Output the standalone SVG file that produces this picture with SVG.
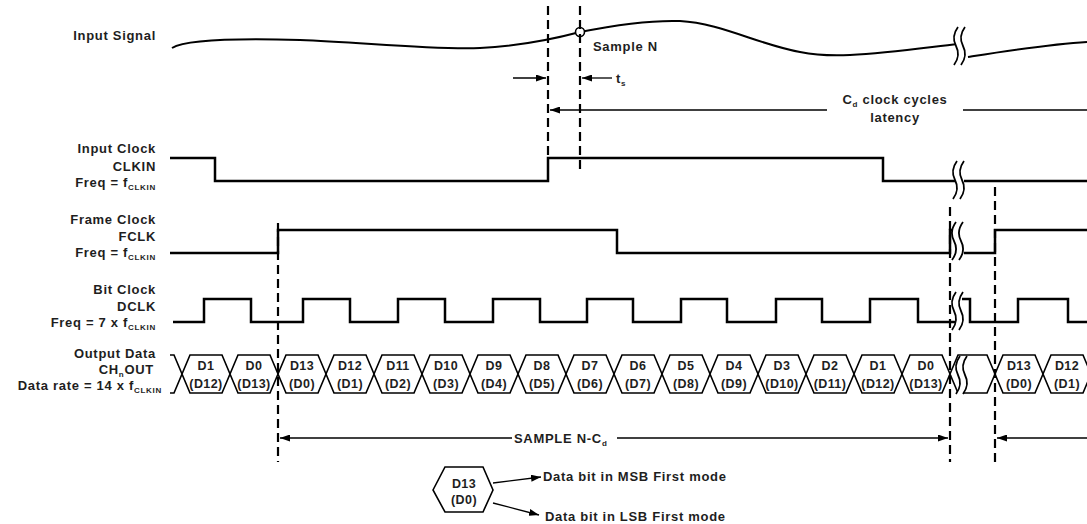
<svg xmlns="http://www.w3.org/2000/svg" xmlns:xlink="http://www.w3.org/1999/xlink" width="1087" height="524" viewBox="0 0 1087 524">
<style>
.lbl{font-family:"Liberation Sans",Arial,sans-serif;font-weight:bold;font-size:13px;fill:#1e1e1e;letter-spacing:0.7px}
.cell{font-family:"Liberation Sans",Arial,sans-serif;font-weight:bold;font-size:12.5px;fill:#1e1e1e;text-anchor:middle;letter-spacing:0.4px}
.sub{font-size:8px}
.sig{fill:none;stroke:#000;stroke-width:2.5;stroke-linejoin:miter}
.curve{fill:none;stroke:#000;stroke-width:2}
.hex{fill:#fff;stroke:#000;stroke-width:1.6}
.dash{stroke:#000;stroke-width:2.2;stroke-dasharray:9 5;fill:none}
.arr{stroke:#000;stroke-width:1.3;fill:none}
.brkc{fill:none;stroke:#000;stroke-width:1.8}
</style>
<defs>
<marker id="ah" viewBox="0 0 10 7" refX="10" refY="3.5" markerWidth="10" markerHeight="7" markerUnits="userSpaceOnUse" orient="auto">
<path d="M0,0 L10,3.5 L0,7 z" fill="#000"/>
</marker>
<g id="brk">
<path d="M3,0 Q-4,9.5 1,19 Q6,28.5 -1,38 L6,38 Q13,28.5 8,19 Q3,9.5 10,0 Z" fill="#fff" stroke="none"/>
<path class="brkc" d="M3,0 Q-4,9.5 1,19 Q6,28.5 -1,38"/>
<path class="brkc" d="M10,0 Q3,9.5 8,19 Q13,28.5 6,38"/>
</g>
</defs>
<rect width="1087" height="524" fill="#fff"/>

<g id="input-signal">
<text class="lbl" x="156" y="40" text-anchor="end">Input Signal</text>
<path class="curve" d="M172,48 C185,40 230,38 300,40 C360,42 430,50 480,48 C520,46 550,40 580,32 C620,24 650,20 680,21 C720,23 760,45 800,52 C815,55 830,56 850,55 C890,53 930,47 958,44"/>
<path class="curve" d="M968,57 C1000,52 1050,44 1087,42"/>
<use xlink:href="#brk" href="#brk" transform="translate(955,27)"/>
<circle cx="580" cy="32" r="4.5" fill="#fff" stroke="#000" stroke-width="1.6"/>
<text class="lbl" x="593" y="51">Sample N</text>
</g>

<g id="input-clock">
<text class="lbl" x="156" y="153" text-anchor="end">Input Clock</text>
<text class="lbl" x="156" y="171" text-anchor="end">CLKIN</text>
<text class="lbl" x="156" y="187" text-anchor="end">Freq = f<tspan class="sub" dy="3">CLKIN</tspan></text>
<path class="sig" d="M170,158 H215 V181 H548 V158 H883 V181 H958"/>
<path class="sig" d="M964,181 H1087"/>
<use xlink:href="#brk" href="#brk" transform="translate(954,161)"/>
</g>

<g id="frame-clock">
<text class="lbl" x="156" y="224" text-anchor="end">Frame Clock</text>
<text class="lbl" x="156" y="241" text-anchor="end">FCLK</text>
<text class="lbl" x="156" y="257" text-anchor="end">Freq =  f<tspan class="sub" dy="3">CLKIN</tspan></text>
<path class="sig" d="M170,253 H278 V230 H617 V253 H950 V230 H955"/>
<path class="sig" d="M964,253 H995 V230 H1087"/>
<use xlink:href="#brk" href="#brk" transform="translate(953,222)"/>
</g>

<g id="bit-clock">
<text class="lbl" x="156" y="294" text-anchor="end">Bit Clock</text>
<text class="lbl" x="156" y="311" text-anchor="end">DCLK</text>
<text class="lbl" x="156" y="327" text-anchor="end">Freq = 7 x f<tspan class="sub" dy="3">CLKIN</tspan></text>
<path class="sig" d="M173,322 H204 V299 H251 V322 H303 V299 H350 V322 H398 V299 H445 V322 H493 V299 H540 V322 H587 V299 H633 V322 H681 V299 H727 V322 H776 V299 H822 V322 H870 V299 H918 V322 H956"/>
<path class="sig" d="M962,299 H970 V322 H1018 V299 H1068 V322 H1087"/>
<use xlink:href="#brk" href="#brk" transform="translate(953,292)"/>
</g>

<g id="output-data">
<text class="lbl" x="156" y="358" text-anchor="end">Output Data</text>
<text class="lbl" x="154" y="374" text-anchor="end">CH<tspan class="sub" dy="3">n</tspan><tspan dy="-3">OUT</tspan></text>
<text class="lbl" x="162" y="390" text-anchor="end">Data rate = 14 x f<tspan class="sub" dy="3">CLKIN</tspan></text>
<path class="hex" d="M170,355 L174,355 L182,374 L174,393 L170,393"/>
<polygon class="hex" points="182,374 190,355 222,355 230,374 222,393 190,393"/>
<polygon class="hex" points="230,374 238,355 270,355 278,374 270,393 238,393"/>
<polygon class="hex" points="278,374 286,355 318,355 326,374 318,393 286,393"/>
<polygon class="hex" points="326,374 334,355 366,355 374,374 366,393 334,393"/>
<polygon class="hex" points="374,374 382,355 414,355 422,374 414,393 382,393"/>
<polygon class="hex" points="422,374 430,355 462,355 470,374 462,393 430,393"/>
<polygon class="hex" points="470,374 478,355 510,355 518,374 510,393 478,393"/>
<polygon class="hex" points="518,374 526,355 558,355 566,374 558,393 526,393"/>
<polygon class="hex" points="566,374 574,355 606,355 614,374 606,393 574,393"/>
<polygon class="hex" points="614,374 622,355 654,355 662,374 654,393 622,393"/>
<polygon class="hex" points="662,374 670,355 702,355 710,374 702,393 670,393"/>
<polygon class="hex" points="710,374 718,355 750,355 758,374 750,393 718,393"/>
<polygon class="hex" points="758,374 766,355 798,355 806,374 798,393 766,393"/>
<polygon class="hex" points="806,374 814,355 846,355 854,374 846,393 814,393"/>
<polygon class="hex" points="854,374 862,355 894,355 902,374 894,393 862,393"/>
<polygon class="hex" points="902,374 910,355 942,355 950,374 942,393 910,393"/>
<polygon class="hex" points="950,374 958,355 987,355 995,374 987,393 958,393"/>
<polygon class="hex" points="995,374 1003,355 1035,355 1043,374 1035,393 1003,393"/>
<polygon class="hex" points="1043,374 1051,355 1083,355 1091,374 1083,393 1051,393"/>
<use xlink:href="#brk" href="#brk" transform="translate(957,356)"/>
<text class="cell" x="206" y="370">D1</text><text class="cell" x="206" y="388">(D12)</text>
<text class="cell" x="254" y="370">D0</text><text class="cell" x="254" y="388">(D13)</text>
<text class="cell" x="302" y="370">D13</text><text class="cell" x="302" y="388">(D0)</text>
<text class="cell" x="350" y="370">D12</text><text class="cell" x="350" y="388">(D1)</text>
<text class="cell" x="398" y="370">D11</text><text class="cell" x="398" y="388">(D2)</text>
<text class="cell" x="446" y="370">D10</text><text class="cell" x="446" y="388">(D3)</text>
<text class="cell" x="494" y="370">D9</text><text class="cell" x="494" y="388">(D4)</text>
<text class="cell" x="542" y="370">D8</text><text class="cell" x="542" y="388">(D5)</text>
<text class="cell" x="590" y="370">D7</text><text class="cell" x="590" y="388">(D6)</text>
<text class="cell" x="638" y="370">D6</text><text class="cell" x="638" y="388">(D7)</text>
<text class="cell" x="686" y="370">D5</text><text class="cell" x="686" y="388">(D8)</text>
<text class="cell" x="734" y="370">D4</text><text class="cell" x="734" y="388">(D9)</text>
<text class="cell" x="782" y="370">D3</text><text class="cell" x="782" y="388">(D10)</text>
<text class="cell" x="830" y="370">D2</text><text class="cell" x="830" y="388">(D11)</text>
<text class="cell" x="878" y="370">D1</text><text class="cell" x="878" y="388">(D12)</text>
<text class="cell" x="926" y="370">D0</text><text class="cell" x="926" y="388">(D13)</text>
<text class="cell" x="1019" y="370">D13</text><text class="cell" x="1019" y="388">(D0)</text>
<text class="cell" x="1067" y="370">D12</text><text class="cell" x="1067" y="388">(D1)</text>
</g>

<g id="legend">
<polygon class="hex" points="433,490 445,467 483,467 493,490 483,512 445,512"/>
<text class="cell" x="464" y="488">D13</text>
<text class="cell" x="464" y="504">(D0)</text>
<text class="lbl" x="543" y="481">Data bit in MSB First mode</text>
<text class="lbl" x="545" y="521">Data bit in LSB First mode</text>
</g>

<g id="annotations">
<text class="lbl" x="616" y="83">t<tspan class="sub" dy="3">s</tspan></text>
<text class="lbl" x="895" y="104" text-anchor="middle">C<tspan class="sub" dy="3">d</tspan><tspan dy="-3"> clock cycles</tspan></text>
<text class="lbl" x="895" y="122" text-anchor="middle">latency</text>
<text class="lbl" x="514" y="443">SAMPLE N-C<tspan class="sub" dy="3">d</tspan></text>
</g>

<g id="connectors">
<line class="dash" x1="548" y1="6" x2="548" y2="157"/>
<line class="dash" x1="580" y1="6" x2="580" y2="174"/>
<line class="dash" x1="278" y1="223" x2="278" y2="462"/>
<line class="dash" x1="950" y1="207" x2="950" y2="462"/>
<line class="dash" x1="995" y1="187" x2="995" y2="462"/>
<line class="arr" x1="513" y1="78" x2="546" y2="78" marker-end="url(#ah)"/>
<line class="arr" x1="612" y1="78" x2="582" y2="78" marker-end="url(#ah)"/>
<line class="arr" x1="827" y1="110" x2="550" y2="110" marker-end="url(#ah)"/>
<line class="arr" x1="963" y1="110" x2="1087" y2="110"/>
<line class="arr" x1="512" y1="438" x2="280" y2="438" marker-end="url(#ah)"/>
<line class="arr" x1="617" y1="438" x2="948" y2="438" marker-end="url(#ah)"/>
<line class="arr" x1="1087" y1="438" x2="997" y2="438" marker-end="url(#ah)"/>
<line class="arr" x1="493" y1="483" x2="541" y2="477" marker-end="url(#ah)"/>
<line class="arr" x1="493" y1="503" x2="539" y2="515" marker-end="url(#ah)"/>
</g>
</svg>
